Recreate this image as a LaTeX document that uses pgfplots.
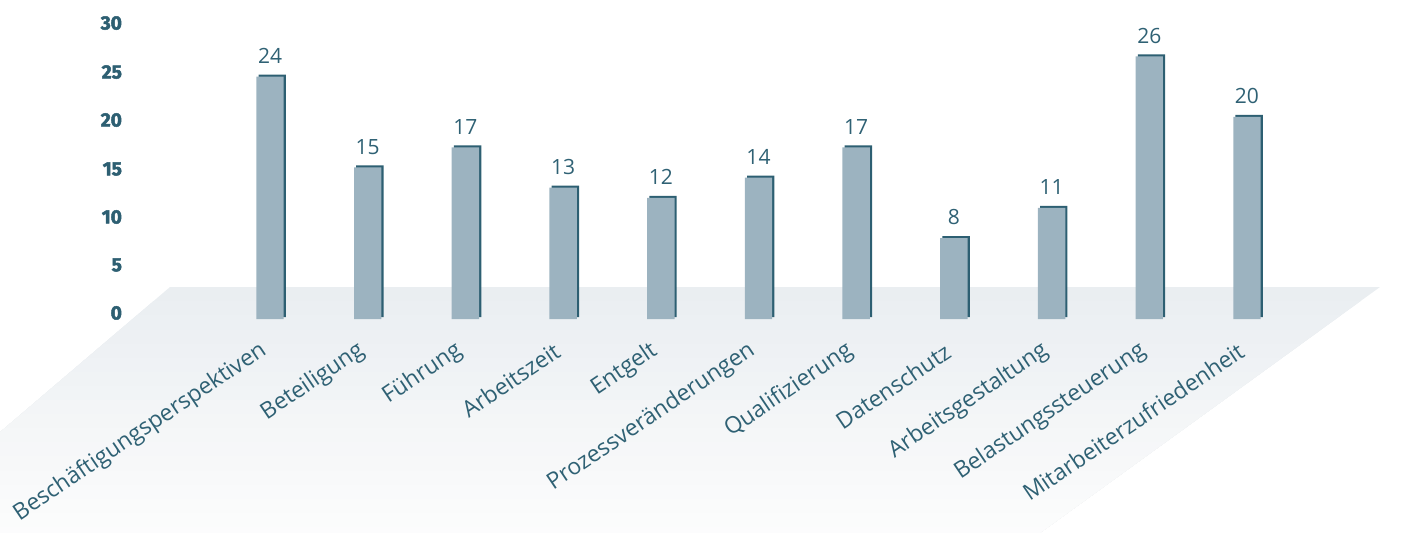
\documentclass[border=0pt]{standalone}
\usepackage{fontspec}
\usepackage{pgfplots}
\pgfplotsset{compat=1.18}
\setmainfont{Open Sans}
\newfontfamily\tickfont{Fira Sans}[BoldFeatures={FakeBold=2.5}]
\definecolor{barc}{HTML}{9CB3C0}
\definecolor{edge}{HTML}{2D5F72}
\definecolor{txt}{HTML}{2F6174}
\definecolor{floor}{HTML}{EAEEF1}

\pgfplotstableread{
x  v
0  24
1  15
2  17
3  13
4  12
5  14
6  17
7  8
8  11
9  26
10 20
}\counts

\begin{document}
\begin{tikzpicture}
% floor (1px = 0.5pt, origin = bar base at left edge), stepped gradient
\begin{scope}
  \clip (0,-106.5pt) rectangle (707.5pt,159.5pt);
  \foreach \k in {0,...,19}{
    \pgfmathsetmacro\yk{16-7.05*\k}
    \pgfmathsetmacro\xl{85+(\yk-16)*1.1702}
    \pgfmathsetmacro\xr{690+(\yk-16)*1.383}
    \pgfmathtruncatemacro\s{100-5*\k}
    \fill[floor!\s!white] (\xl pt,\yk pt) -- (\xr pt,\yk pt) -- (495pt,-125pt) -- (-80pt,-125pt) -- cycle;
  }
\end{scope}
\begin{axis}[
    at={(0,0)}, anchor=south west,
    scale only axis,
    width=707.5pt, height=159.5pt,
    xmin=-2.764, xmax=11.72,
    ymin=0, ymax=31.58,
    clip=false,
    axis line style={draw=none},
    tick style={draw=none},
    xtick={0,...,10},
    xticklabels={Beschäftigungsperspektiven, Beteiligung, Führung, Arbeitszeit, Entgelt, Prozessveränderungen, Qualifizierung, Datenschutz, Arbeitsgestaltung, Belastungssteuerung, Mitarbeiterzufriedenheit},
    xticklabel style={font=\fontsize{11.4}{13}\selectfont, text=txt, rotate=34, anchor=east},
    xticklabel shift=13pt,
    ytick={0.6,5.35,10.1,14.85,19.7,24.45,29.3},
    yticklabels={0,5,10,15,20,25,30},
    yticklabel style={font=\tickfont\bfseries\fontsize{9.6}{11}\selectfont, text=edge, anchor=east, xshift=64.5pt},
]
  \addplot[ybar, bar width=13.7pt, bar shift=1.1pt, yshift=1pt, fill=edge, draw=none]
    table[x=x, y=v] {\counts};
  \addplot[ybar, bar width=13.7pt, bar shift=0pt, fill=barc, draw=none,
    nodes near coords,
    /pgf/number format/assume math mode=true,
    nodes near coords style={font=\fontsize{10.5}{12}\selectfont, text=txt, yshift=3pt}]
    table[x=x, y=v] {\counts};
\end{axis}
\pgfresetboundingbox
\path[use as bounding box] (0,-106.5pt) rectangle (707.5pt,159.5pt);
\end{tikzpicture}
\end{document}
